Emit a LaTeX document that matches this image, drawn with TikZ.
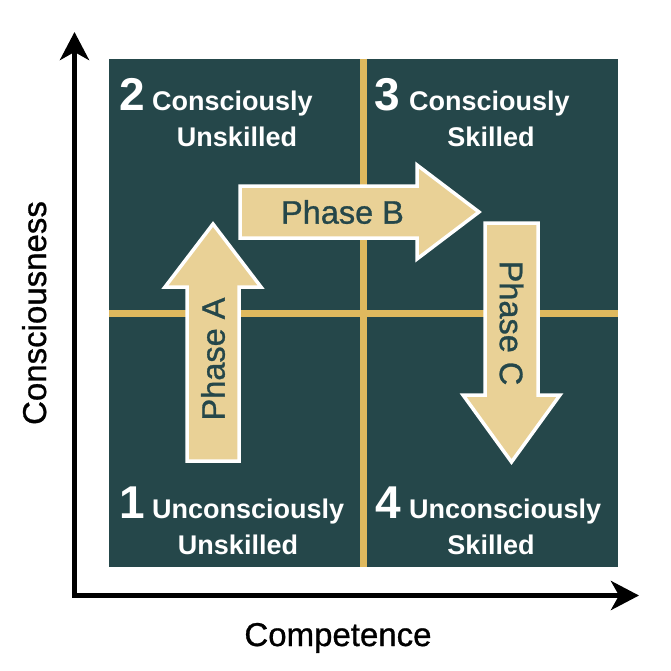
\documentclass[tikz,border=0pt]{standalone}
\usepackage{fontspec}
\setmainfont{Liberation Sans}
\newfontfamily\labelfont[FakeBold=0.9]{Liberation Sans}
\usepackage{xcolor}
\usetikzlibrary{arrows.meta,positioning}
\definecolor{boardteal}{HTML}{25474A}
\definecolor{divgold}{HTML}{DFB95E}
\definecolor{phasefill}{HTML}{E9D196}

\begin{document}
\begin{tikzpicture}[x=1pt, y=-1pt,
    axis/.style={line width=5pt, {Stealth[length=28pt,width=29pt,inset=8pt]}-{Stealth[length=28pt,width=29pt,inset=8pt]}},
    divider/.style={divgold, line width=7pt},
    phasearrow/.style={fill=phasefill, draw=white, line width=3.5pt, line join=miter},
    phaselabel/.style={text=boardteal, inner sep=0pt, font=\labelfont\fontsize{32.5}{36}\selectfont},
    qtext/.style={text=white, inner sep=0pt, font=\fontsize{27}{30}\selectfont\bfseries},
    qnum/.style={text=white, inner sep=0pt, font=\fontsize{46}{48}\selectfont\bfseries},
    axislabel/.style={inner sep=0pt, font=\labelfont\fontsize{33}{36}\selectfont}]
  \useasboundingbox (0,0) rectangle (670,671);
  \fill[boardteal] (109,59) rectangle (618,567);
  \draw[divider] (363,59) -- (363,567);
  \draw[divider] (109,313) -- (618,313);
  \coordinate (ytop) at (74.5,32);
  \coordinate (xend) at (639,595.5);
  \draw[axis] (ytop) |- (xend);
  \node[axislabel, rotate=90, anchor=base] (ylabel) at (46,313) {Consciousness};
  \node[axislabel, anchor=base] (xlabel) at (338,646) {Competence};
  \draw[phasearrow] (187,461) -- (187,287) -- (165,287) -- (213,224) -- (261,287) -- (239,287) -- (239,461) -- cycle;
  \draw[phasearrow] (240,186) -- (417,186) -- (417,165) -- (479,212) -- (417,259) -- (417,238) -- (240,238) -- cycle;
  \draw[phasearrow] (485,223) -- (538,223) -- (538,395) -- (560,395) -- (511.5,462) -- (463,395) -- (485,395) -- cycle;
  \node[phaselabel, rotate=90] (phaseA) at (213,359) {Phase A};
  \node[phaselabel] (phaseB) at (342.5,212) {Phase B};
  \node[phaselabel, rotate=-90] (phaseC) at (511.5,323) {Phase C};
  \node[qtext, anchor=base west] (q2top) at (152,111) {Consciously};
  \node[qtext, anchor=base] (q2bot) at (237,147) {Unskilled};
  \node[qnum, left=7pt of q2top.base west, anchor=base east] (q2num) {2};
  \node[qtext, anchor=base west] (q3top) at (409,111) {Consciously};
  \node[qtext, anchor=base] (q3bot) at (491,147) {Skilled};
  \node[qnum, left=9pt of q3top.base west, anchor=base east] (q3num) {3};
  \node[qtext, anchor=base west] (q1top) at (152,518) {Unconsciously};
  \node[qtext, anchor=base] (q1bot) at (238,554) {Unskilled};
  \node[qnum, left=7pt of q1top.base west, anchor=base east] (q1num) {1};
  \node[qtext, anchor=base west] (q4top) at (409,518) {Unconsciously};
  \node[qtext, anchor=base] (q4bot) at (491,554) {Skilled};
  \node[qnum, left=8pt of q4top.base west, anchor=base east] (q4num) {4};
\end{tikzpicture}
\end{document}
